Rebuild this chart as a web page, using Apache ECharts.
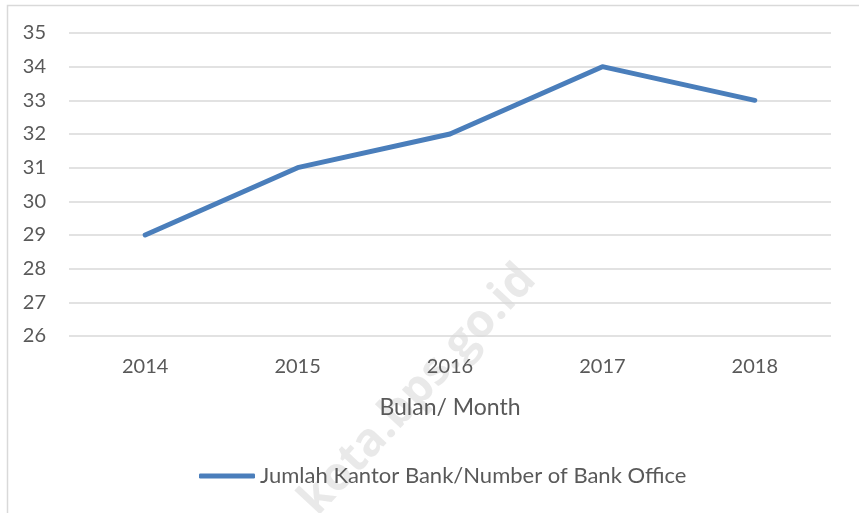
<!doctype html>
<html>
  <head>
    <meta charset="utf-8">
    <title>Jumlah Kantor Bank</title>
    <script src="https://cdn.jsdelivr.net/npm/echarts@6/dist/echarts.min.js"></script>
  </head>
  <body style="margin:0;background:#fff;">
    <div id="main" style="width:859px;height:513px;"></div>
  </body>
  <script>
   var chart = echarts.init(document.getElementById('main'));

   var years = ['2014', '2015', '2016', '2017', '2018'];
   var bankOffices = [29, 31, 32, 34, 33];
   var seriesName = 'Jumlah Kantor Bank/Number of Bank Office';
   var axisName = 'Bulan/ Month';

   var fontFam = 'Lato, "Open Sans", sans-serif';

   var option = {
     backgroundColor: '#fff',
     animation: false,
     textStyle: { fontFamily: fontFam },
     grid: { left: 69, right: 28, top: 33, bottom: 177 },
     legend: {
       data: [seriesName],
       bottom: 21,
       left: 194,
       icon: 'roundRect',
       itemWidth: 56,
       itemHeight: 5,
       itemGap: 2,
       textStyle: { color: '#595959', fontSize: 22, fontFamily: fontFam }
     },
     xAxis: {
       type: 'category',
       data: years,
       boundaryGap: true,
       axisLine: { show: false },
       axisTick: { show: false },
       axisLabel: { color: '#595959', fontSize: 20, margin: 21 },
       name: axisName,
       nameLocation: 'middle',
       nameGap: 60,
       nameTextStyle: { color: '#595959', fontSize: 23 }
     },
     yAxis: {
       type: 'value',
       min: 26,
       max: 35,
       interval: 1,
       axisLine: { show: false },
       axisTick: { show: false },
       axisLabel: { color: '#595959', fontSize: 20, margin: 23 },
       splitLine: { lineStyle: { color: '#d9d9d9', width: 1.5 } }
     },
     series: [{
       name: seriesName,
       type: 'line',
       data: bankOffices,
       showSymbol: false,
       symbol: 'none',
       lineStyle: { color: '#4a7ebb', width: 5, cap: 'round', join: 'round' },
       itemStyle: { color: '#4a7ebb' }
     }],
     graphic: [
       // chart border (only top and left visible)
       { type: 'rect', left: 5, top: 3, shape: { width: 900, height: 560 },
         style: { fill: 'none', stroke: '#d9d9d9', lineWidth: 1.5 }, silent: true },
       // watermark
       { type: 'text', x: 418, y: 390, rotation: Math.PI * 47 / 180, z: -1,
         style: { text: 'kota.bps.go.id', fill: 'rgba(200,200,200,0.4)', font: 'bold 46px "Open Sans", sans-serif',
           textAlign: 'center', textVerticalAlign: 'middle' }, silent: true }
     ]
   };

   chart.setOption(option);
  </script>
</html>
